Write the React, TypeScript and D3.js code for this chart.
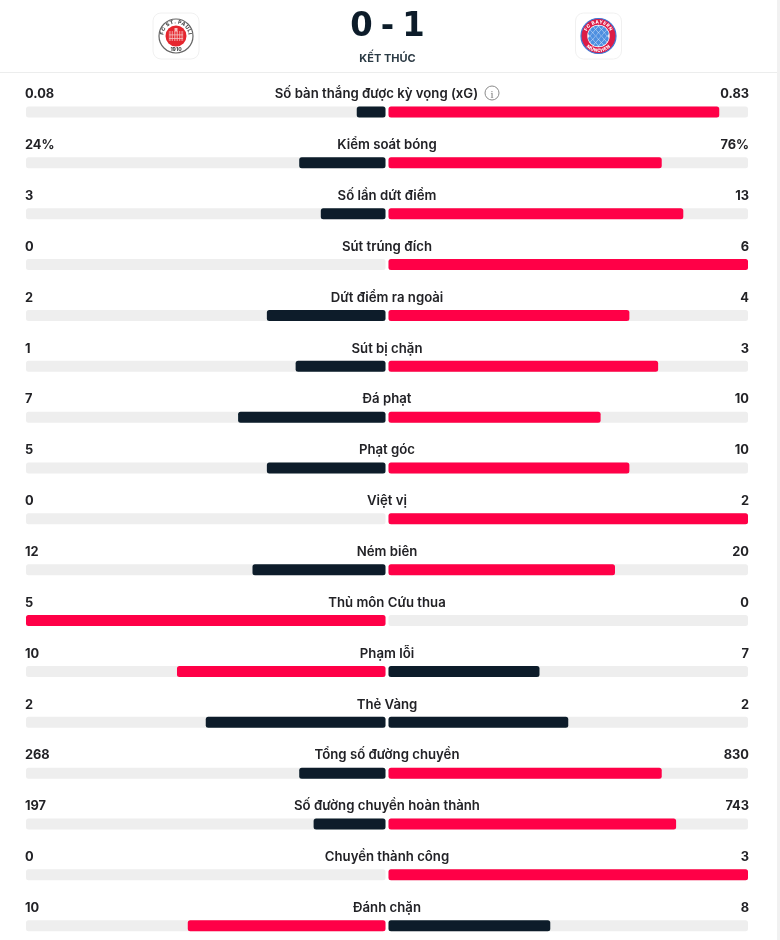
import React from "react";
import * as d3 from "d3";

const statLabels = ["Số bàn thắng được kỳ vọng (xG)","Kiểm soát bóng","Số lần dứt điểm","Sút trúng đích","Dứt điểm ra ngoài","Sút bị chặn","Đá phạt","Phạt góc","Việt vị","Ném biên","Thủ môn Cứu thua","Phạm lỗi","Thẻ Vàng","Tổng số đường chuyền","Số đường chuyền hoàn thành","Chuyền thành công","Đánh chặn"];
const homeText = ["0.08","24%","3","0","2","1","7","5","0","12","5","10","2","268","197","0","10"];
const awayText = ["0.83","76%","13","6","4","3","10","10","2","20","0","7","2","830","743","3","8"];
const homeValues = [0.08,24,3,0,2,1,7,5,0,12,5,10,2,268,197,0,10];
const awayValues = [0.83,76,13,6,4,3,10,10,2,20,0,7,2,830,743,3,8];
const scoreParts = ["0", "-", "1"];
const NAVY = "#0c1f2b", RED = "#ff0046", TRACK = "#eeeeee", INK = "#222226";
const FONT = "Inter, 'Noto Sans', sans-serif";

const rowY = d3.scaleLinear().domain([0, statLabels.length - 1]).range([112, 925.7]);
const barLen = d3.scaleLinear().domain([0, 100]).range([0, 359.5]);
const scoreX = d3.scalePoint<string>().domain(scoreParts).range([361.5, 413.5]);

function StPauli({ x, y }: { x: number; y: number }) {
  const cols = d3.range(-4, 5);
  return (
    <g transform={`translate(${x},${y})`}>
      <rect x={-23} y={-23} width={46} height={46} rx={8} fill="#fff" stroke="#f0f0f0" />
      <circle r={17} fill="#fff" stroke="#666" strokeWidth={1.2} />
      <path id="spTop" d="M-12.6,0A12.6,12.6 0 0 1 12.6,0" fill="none" />
      <text fontSize={5} fontWeight={800} fill="#444" fontFamily={FONT} letterSpacing="0.5"><textPath href="#spTop" startOffset="50%" textAnchor="middle">FC ST. PAULI</textPath></text>
      <circle r={10.5} fill="#e5262d" />
      {cols.map((i) => <rect key={i} x={i * 1.7 - 0.3} y={-5} width={0.6} height={10} fill="#f6c3c3" />)}
      <rect x={-7} y={-1.5} width={14} height={0.8} fill="#f6c3c3" />
      <rect x={-7} y={2} width={14} height={0.8} fill="#f6c3c3" />
      <rect x={-1.5} y={-8} width={3} height={3.5} fill="#f6c3c3" />
      <text y={15.4} textAnchor="middle" fontSize={5} fontWeight={800} fill="#444" fontFamily={FONT}>1910</text>
    </g>
  );
}

function Bayern({ x, y }: { x: number; y: number }) {
  const cells = d3.range(-3, 4);
  return (
    <g transform={`translate(${x},${y})`}>
      <rect x={-23} y={-23} width={46} height={46} rx={8} fill="#fff" stroke="#f0f0f0" />
      <circle r={17.5} fill="#dc1a46" />
      <circle r={17.5} fill="none" stroke="#3f78d6" strokeWidth={1.2} />
      <circle r={11.2} fill="#fff" />
      <clipPath id="bayernClip"><circle r={10.6} /></clipPath>
      <g clipPath="url(#bayernClip)">
        <rect x={-11} y={-11} width={22} height={22} fill="#e4effb" />
        {cells.map((i) => cells.map((j) => (
          (i + j) % 2 === 0 ? <path key={`${i}${j}`} d="M0,-3.2L2.6,0L0,3.2L-2.6,0Z" fill="#4d8fe0" transform={`translate(${i * 2.9},${j * 3.3})`} /> : null
        )))}
      </g>
      <path id="fcbTop" d="M-12.6,0A12.6,12.6 0 0 1 12.6,0" fill="none" />
      <path id="fcbBottom" d="M-16,0A16,16 0 0 0 16,0" fill="none" />
      <text fontSize={4.6} fontWeight={800} fill="#fff" fontFamily={FONT} letterSpacing="0.4"><textPath href="#fcbTop" startOffset="50%" textAnchor="middle">FC BAYERN</textPath></text>
      <text fontSize={4.6} fontWeight={800} fill="#fff" fontFamily={FONT} letterSpacing="0.4"><textPath href="#fcbBottom" startOffset="50%" textAnchor="middle">MÜNCHEN</textPath></text>
    </g>
  );
}

export default function App() {
  return (
    <svg width={780} height={940} viewBox="0 0 780 940" style={{ position: "absolute", left: 0, top: 0, display: "block", background: "#fff" }} fontFamily={FONT}>
      <defs>
        <filter id="soft" x="-2%" y="-2%" width="104%" height="104%"><feGaussianBlur stdDeviation="0.4" /></filter>
      </defs>
      <g filter="url(#soft)">
        <StPauli x={176} y={36} />
        <Bayern x={598.5} y={36} />
        {scoreParts.map((s) => (
          <text key={s} textAnchor="middle" fontSize={34} fontWeight={700} fill={NAVY} fontFamily="'DejaVu Sans', sans-serif" transform={`translate(${scoreX(s)},36) scale(0.95,1)`}>{s}</text>
        ))}
        <text x={387.5} y={62} textAnchor="middle" fontSize={11} fontWeight={700} fill="#2c3a44">KẾT THÚC</text>
        <line x1={0} x2={780} y1={72.5} y2={72.5} stroke="#eceded" />
        <rect x={777} y={0} width={3} height={940} fill="#f1f1f1" />
        {statLabels.map((label, i) => {
          const y = rowY(i);
          const h = homeValues[i], a = awayValues[i];
          const leftPct = Math.floor((h / (h + a)) * 100);
          const hw = barLen(leftPct), aw = barLen(100 - leftPct);
          const hc = h > a ? RED : NAVY;
          const ac = a > h ? RED : NAVY;
          return (
            <g key={label}>
              <rect x={26} y={y - 5.5} width={359.5} height={11} rx={2.5} fill={TRACK} />
              <rect x={388.5} y={y - 5.5} width={359.5} height={11} rx={2.5} fill={TRACK} />
              {hw > 0 && <rect x={385.5 - hw} y={y - 5.5} width={hw} height={11} rx={2.5} fill={hc} />}
              {aw > 0 && <rect x={388.5} y={y - 5.5} width={aw} height={11} rx={2.5} fill={ac} />}
              <text x={25} y={y - 13.7} fontSize={12.8} fontWeight={650} fill={INK}>{homeText[i]}</text>
              <text x={749} y={y - 13.7} textAnchor="end" fontSize={12.8} fontWeight={650} fill={INK}>{awayText[i]}</text>
              <text x={i === 0 ? 376.5 : 387} y={y - 13.7} textAnchor="middle" fontSize={13.2} fontWeight={600} fill={INK}>{label}</text>
            </g>
          );
        })}
        <circle cx={492} cy={93} r={7} fill="none" stroke="#8a8a8a" strokeWidth={1} />
        <text x={492} y={97.5} textAnchor="middle" fontSize={11} fill="#777" fontFamily="'Liberation Serif', serif">i</text>
      </g>
    </svg>
  );
}
